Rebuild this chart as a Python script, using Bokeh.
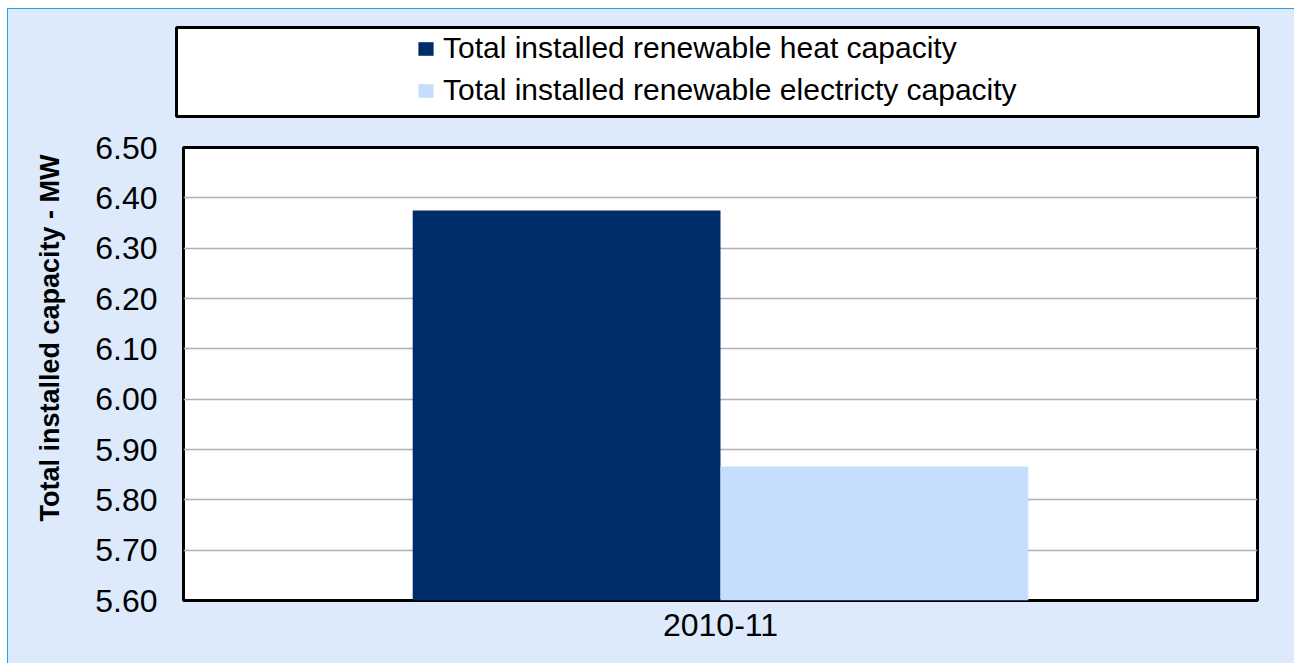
from bokeh.plotting import figure
from bokeh.layouts import column
from bokeh.models import (FactorRange, Range1d, FixedTicker, NumeralTickFormatter,
                          Legend, LegendItem, Title, ColumnDataSource)
from bokeh.transform import dodge
from bokeh.embed import file_html
from bokeh.resources import INLINE

# ---- data ----
categories = ["2010-11"]
heat_capacity = [6.375]
electricity_capacity = [5.866]
y_ticks = [5.6, 5.7, 5.8, 5.9, 6.0, 6.1, 6.2, 6.3, 6.4, 6.5]
series_names = ["Total installed renewable heat capacity",
                "Total installed renewable electricty capacity"]
y_title = "Total installed capacity - MW"

HEAT = "#002D69"
ELEC = "#C6DEFD"
BG = "#DCEAFB"
FONT = "Liberation Sans"

W = 1286

# ---------------- legend panel ----------------
lf = figure(x_range=Range1d(0, 1), y_range=Range1d(0, 1), width=W, height=116,
            output_backend="svg", toolbar_location=None,
            x_axis_type=None, y_axis_type=None, frame_align=False,
            min_border_left=168, min_border_right=36, min_border_top=18, min_border_bottom=9)
lf.border_fill_color = BG
lf.background_fill_color = "white"
lf.outline_line_color = "black"
lf.outline_line_width = 3
lf.grid.visible = False

# legend-only renderers (their bars sit outside the visible range)
dummy = ColumnDataSource(dict(x=[10.0], top=[10.0]))
d_heat = lf.vbar(x="x", top="top", bottom=9.0, width=0.1, source=dummy, fill_color=HEAT, line_color=None)
d_elec = lf.vbar(x="x", top="top", bottom=9.0, width=0.1, source=dummy, fill_color=ELEC, line_color=None)

legend = Legend(items=[LegendItem(label=series_names[0], renderers=[d_heat]),
                       LegendItem(label=series_names[1], renderers=[d_elec])],
                location=(240, 9), orientation="vertical",
                padding=0, margin=0, spacing=8,
                glyph_width=19, glyph_height=17, label_height=33, label_standoff=8,
                label_text_font=FONT, label_text_font_size="30px", label_text_color="black",
                border_line_color=None, background_fill_alpha=0)
lf.add_layout(legend)

# ---------------- chart panel ----------------
src = ColumnDataSource(dict(cat=categories, heat=heat_capacity, elec=electricity_capacity))

p = figure(x_range=FactorRange(*categories), y_range=Range1d(5.6, 6.5),
           width=W, height=538, output_backend="svg", toolbar_location=None, frame_align=False,
           min_border_left=175, min_border_right=37, min_border_top=22, min_border_bottom=63)
p.border_fill_color = BG
p.background_fill_color = "white"
p.outline_line_color = "black"
p.outline_line_width = 3

bw = 0.2866
p.vbar(x=dodge("cat", -bw / 2, range=p.x_range), top="heat", bottom=5.6, width=bw,
       source=src, fill_color=HEAT, line_color=None)
p.vbar(x=dodge("cat", bw / 2, range=p.x_range), top="elec", bottom=5.6, width=bw,
       source=src, fill_color=ELEC, line_color=None)

p.yaxis.ticker = FixedTicker(ticks=y_ticks)
p.yaxis.formatter = NumeralTickFormatter(format="0.00")
for ax in (p.xaxis, p.yaxis):
    ax.axis_line_color = None
    ax.major_tick_line_color = None
    ax.minor_tick_line_color = None
    ax.major_tick_out = 0
    ax.major_tick_in = 0
    ax.major_label_text_font = FONT
    ax.major_label_text_color = "black"
p.yaxis.major_label_text_font_size = "32px"
p.yaxis.major_label_standoff = 26
p.xaxis.major_label_text_font_size = "32px"
p.xaxis.major_label_standoff = 13

p.xgrid.grid_line_color = None
p.ygrid.grid_line_color = "#B0B0B0"
p.ygrid.grid_line_width = 1.5

p.add_layout(Title(text=y_title, align="right", vertical_align="top", offset=7, standoff=52,
                   text_font=FONT, text_font_style="bold", text_font_size="27px",
                   text_color="black"), "left")

layout = column(lf, p, spacing=0, margin=(8, 0, 0, 7),
                styles={"border-top": "1px solid #22A3E0", "border-left": "1px solid #22A3E0",
                        "background-color": BG})

open("out.html", "w").write(file_html(layout, INLINE))
